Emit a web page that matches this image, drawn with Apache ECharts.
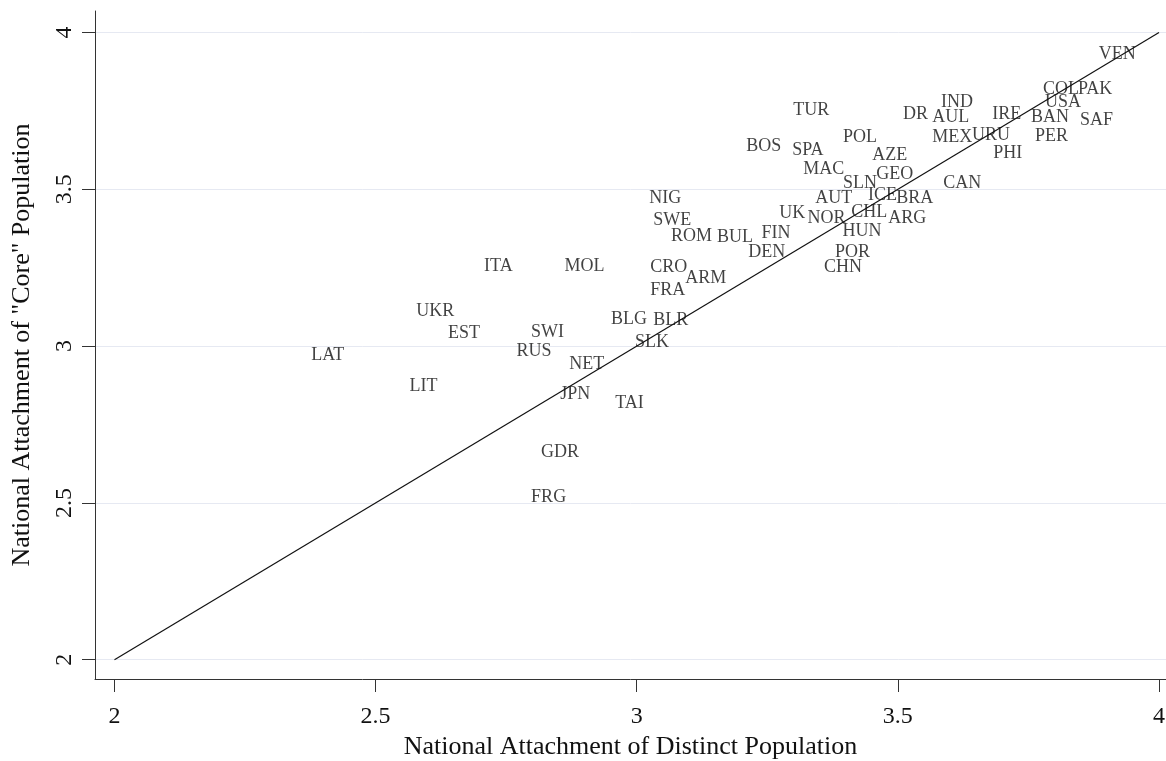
<!DOCTYPE html>
<html>
<head>
<meta charset="utf-8">
<script src="https://cdn.jsdelivr.net/npm/echarts@6/dist/echarts.min.js"></script>
<style>html,body{margin:0;padding:0;background:#fff}#c{width:1166px;height:761px}</style>
</head>
<body>
<div id="c"></div>
<script>
const countries = ["VEN","COL","PAK","USA","IND","DR","AUL","IRE","BAN","SAF","MEX","URU","PER","PHI","CAN","TUR","POL","BOS","SPA","AZE","MAC","GEO","SLN","ICE","BRA","AUT","NIG","UK","NOR","CHL","ARG","SWE","ROM","BUL","FIN","HUN","DEN","POR","CHN","CRO","ARM","FRA","BLG","BLR","SLK","ITA","MOL","UKR","EST","SWI","LAT","RUS","NET","LIT","JPN","TAI","GDR","FRG"];
const distinct = [3.879,3.772,3.839,3.776,3.577,3.504,3.560,3.675,3.749,3.843,3.560,3.636,3.757,3.677,3.581,3.294,3.389,3.204,3.292,3.445,3.313,3.453,3.389,3.437,3.491,3.336,3.018,3.267,3.321,3.405,3.476,3.026,3.060,3.148,3.233,3.388,3.208,3.374,3.353,3.020,3.087,3.020,2.945,3.026,2.991,2.702,2.856,2.572,2.633,2.792,2.371,2.764,2.865,2.559,2.848,2.953,2.811,2.792];
const core = [3.931,3.820,3.820,3.778,3.778,3.740,3.731,3.740,3.731,3.721,3.667,3.673,3.670,3.616,3.520,3.753,3.667,3.638,3.625,3.608,3.565,3.549,3.520,3.482,3.472,3.472,3.472,3.424,3.408,3.428,3.408,3.402,3.351,3.348,3.361,3.367,3.300,3.300,3.252,3.252,3.217,3.179,3.086,3.083,3.013,3.255,3.255,3.112,3.042,3.045,2.972,2.984,2.943,2.873,2.847,2.819,2.662,2.519];
const xTicks = [2, 2.5, 3, 3.5, 4];
const yTicks = [2, 2.5, 3, 3.5, 4];
const refLine = [[2, 2], [4, 4]];

const FONT = '"Liberation Serif", "DejaVu Serif", serif';
const chart = echarts.init(document.getElementById('c'), null, {renderer: 'canvas'});
chart.setOption({
  animation: false,
  backgroundColor: '#fff',
  grid: {left: 95, right: 0, top: 11, bottom: 82, containLabel: false, outerBoundsMode: 'none'},
  xAxis: {
    type: 'value', min: 1.9627, max: 4.0134,
    name: 'National Attachment of Distinct Population',
    nameLocation: 'middle', nameGap: 52,
    nameTextStyle: {fontFamily: FONT, fontSize: 26, color: '#111'},
    axisLine: {show: true, onZero: false, lineStyle: {color: '#333', width: 1}},
    axisTick: {show: true, length: 13, customValues: xTicks, lineStyle: {color: '#333'}},
    axisLabel: {customValues: xTicks, margin: 26, fontFamily: FONT, fontSize: 24, color: '#111', formatter: v => String(v)},
    splitLine: {show: false}
  },
  yAxis: {
    type: 'value', min: 1.9385, max: 4.0686,
    name: 'National Attachment of "Core" Population',
    nameLocation: 'middle', nameGap: 60, nameRotate: 90,
    nameTextStyle: {fontFamily: FONT, fontSize: 26, color: '#111'},
    axisLine: {show: true, onZero: false, lineStyle: {color: '#333', width: 1}},
    axisTick: {show: true, length: 13, customValues: yTicks, lineStyle: {color: '#333'}},
    axisLabel: {customValues: yTicks, rotate: 90, margin: 18, fontFamily: FONT, fontSize: 24, color: '#111', formatter: v => String(v)},
    splitLine: {show: true, lineStyle: {color: '#e6e9f2', width: 1}}
  },
  series: [
    {
      type: 'line', data: refLine, symbol: 'none', silent: true,
      lineStyle: {color: '#111', width: 1.2}, z: 3
    },
    {
      type: 'scatter', symbolSize: 0,
      data: countries.map((c, i) => ({name: c, value: [distinct[i], core[i]]})),
      label: {
        show: true, position: 'right', distance: 3,
        formatter: p => p.name,
        fontFamily: FONT, fontSize: 18, color: '#111'
      },
      z: 4
    }
  ]
});
</script>
</body>
</html>
